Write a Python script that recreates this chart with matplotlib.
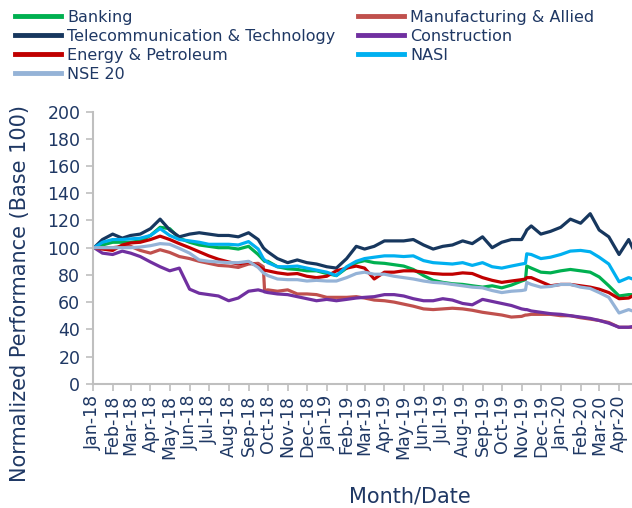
import pandas as pd
import matplotlib
matplotlib.use('Agg')
import matplotlib.pyplot as plt
import matplotlib.dates as mdates

# sample dates (roughly semi-monthly, plus a few around the jumps)
dates = pd.to_datetime([
    '2018-01-03', '2018-01-16', '2018-02-01', '2018-02-16', '2018-03-01', '2018-03-16',
    '2018-04-01', '2018-04-16', '2018-05-01', '2018-05-16', '2018-06-01', '2018-06-16',
    '2018-07-01', '2018-07-16', '2018-08-01', '2018-08-16', '2018-09-01', '2018-09-16',
    '2018-09-24', '2018-09-26', '2018-10-01', '2018-10-16', '2018-11-01', '2018-11-16',
    '2018-12-01', '2018-12-16',
    '2019-01-01', '2019-01-16', '2019-02-01', '2019-02-16', '2019-03-01', '2019-03-16',
    '2019-04-01', '2019-04-16', '2019-05-01', '2019-05-16', '2019-06-01', '2019-06-16',
    '2019-07-01', '2019-07-16', '2019-08-01', '2019-08-16', '2019-09-01', '2019-09-16',
    '2019-10-01', '2019-10-16', '2019-11-01', '2019-11-07', '2019-11-09', '2019-11-16',
    '2019-12-01', '2019-12-16',
    '2020-01-01', '2020-01-16', '2020-02-01', '2020-02-16', '2020-03-01', '2020-03-16',
    '2020-04-01', '2020-04-16', '2020-04-22',
])

banking = [
    100, 102, 104, 104, 104, 105, 109, 115, 114, 107, 104, 102, 101, 100, 100, 99, 101, 95,
    91, 90, 90, 86, 84.5, 84, 83, 83,
    81, 79.5, 85, 89, 90.5, 89, 88.5, 87.5, 86.5, 84, 79.5, 76, 74.5, 73.5, 73, 72, 71, 72,
    70.5, 72.5, 75.5, 76.5, 86.5, 85, 82, 81.5,
    83, 84, 83, 82, 78.5, 72, 64.5, 65.5, 65.5,
]
manufacturing = [
    100, 100, 100, 101, 101, 98, 96, 98.5, 96.5, 93.5, 92, 90, 88.5, 87, 86.5, 85.5, 88, 88.5,
    86, 68.5, 69, 68, 69, 66, 66, 65.5,
    63.5, 63.5, 63.5, 64, 63, 61.5, 61, 60, 58.5, 57, 55, 54.5, 55, 55.5, 55, 54, 52.5, 51.5,
    50.5, 49, 49.5, 50.5, 50.5, 51, 51, 51,
    50, 50, 48.5, 47.5, 46.5, 45, 41.5, 41.5, 41.5,
]
telecom = [
    100, 106, 110, 107, 109, 110, 114, 121, 113, 108, 110, 111, 110, 109, 109, 108, 111, 106,
    100, 99, 97, 92, 89, 91, 89, 88,
    86, 85, 92, 101, 99, 101, 105, 105, 105, 106, 102, 99, 101, 102, 105, 103, 108, 100,
    104, 106, 106, 111, 113, 116, 110, 112,
    115, 121, 118, 125, 113, 108, 95, 106, 100,
]
construction = [
    100, 96, 95, 97.5, 96, 93.5, 89.5, 86, 83, 85, 69.5, 66.5, 65.5, 64.5, 61, 63, 68, 69,
    68, 67.5, 67, 66, 65.5, 64, 62.5, 61,
    62, 61, 62, 63, 63.5, 64, 65.5, 65.5, 64.5, 62.5, 61, 61, 62.5, 61.5, 59, 58, 62, 60.5,
    59, 57.5, 55, 54.5, 54.5, 53.5, 52.5, 51.5,
    51, 50, 49, 48, 46.5, 44.5, 41.5, 41.5, 42,
]
energy = [
    100, 99, 98, 102, 103.5, 104, 106, 108.5, 106, 103, 100, 97, 94, 91.5, 89.5, 88, 89.5, 86.5,
    84, 83.5, 83, 81.5, 80.5, 81, 79, 78,
    79, 83, 85, 86.5, 85, 77, 82, 82, 83, 83, 82, 81, 80.5, 80.5, 81.5, 81, 78, 76,
    74.5, 75.5, 76.5, 77, 78, 78, 75, 72,
    73, 73, 72, 71, 69.5, 67, 62.5, 63, 64.5,
]
nasi = [
    100, 104, 106, 106, 106.5, 107, 109, 114, 109, 106, 105, 104, 102.5, 102.5, 102.5, 102, 104.5, 99,
    92, 91, 89, 86, 86, 86.5, 85, 83.5,
    82, 79.5, 86, 90, 92, 93, 94, 94, 93.5, 94, 90.5, 89, 88.5, 88, 89, 87, 89, 86,
    85, 86.5, 88, 88.5, 95.5, 95, 92, 93,
    95, 97.5, 98, 97, 93, 88, 75, 78, 77,
]
nse20 = [
    100, 100, 100, 100, 100, 100.5, 101.5, 103, 102.5, 99.5, 96, 91, 90, 89.5, 89, 89, 90, 85.5,
    81.5, 81, 79.5, 77, 76.5, 76.5, 75.5, 76,
    75.5, 75.5, 78, 81, 82, 80.5, 80.5, 79, 78, 77, 75.5, 74.5, 74, 73, 72, 71, 70.5, 68.5,
    67, 68, 68.5, 69, 74.5, 73, 71, 71.5,
    73, 73, 71, 70, 67, 63.5, 52, 54.5, 53.5,
]

series = [
    ('Banking', banking, '#00B050'),
    ('Manufacturing & Allied', manufacturing, '#C0504D'),
    ('Telecommunication & Technology', telecom, '#17375E'),
    ('Construction', construction, '#7030A0'),
    ('Energy & Petroleum', energy, '#C00000'),
    ('NASI', nasi, '#00B0F0'),
    ('NSE 20', nse20, '#95B3D7'),
]

text_col = '#1F3864'
axis_col = '#BFBFBF'
plt.rcParams['font.family'] = ['DejaVu Sans']

fig = plt.figure(figsize=(6.32, 5.08), dpi=100)
# plot area runs to (just past) the right edge of the picture, like the cropped original
x_end = pd.Timestamp('2020-04-25')
days = (x_end - pd.Timestamp('2018-01-01')).days
ax = fig.add_axes([92.8 / 632, 1 - 383.7 / 508, days * 0.641 / 632, 272 / 508])

lines = {}
for name, vals, col in series:
    ln, = ax.plot(dates, vals, color=col, lw=2.3, solid_joinstyle='round')
    lines[name] = ln

ax.set_xlim(pd.Timestamp('2018-01-01'), x_end)
ax.set_ylim(0, 200)
ax.set_yticks(range(0, 201, 20))
ax.xaxis.set_major_locator(mdates.MonthLocator())
ax.xaxis.set_major_formatter(mdates.DateFormatter('%b-%y'))
plt.setp(ax.get_xticklabels(), rotation=90)

for s in ['top', 'right']:
    ax.spines[s].set_visible(False)
for s in ['left', 'bottom']:
    ax.spines[s].set_color(axis_col)
    ax.spines[s].set_linewidth(1.5)
ax.tick_params(axis='both', colors=axis_col, width=1.2, length=5,
               labelcolor=text_col, labelsize=12.5)
ax.tick_params(axis='x', pad=3)
ax.tick_params(axis='y', pad=4)

fig.text(20 / 632, 1 - 294 / 508, 'Normalized Performance (Base 100)', rotation=90,
         ha='center', va='center', fontsize=15, color=text_col)
fig.text(410 / 632, 1 - 497 / 508, 'Month/Date', ha='center', va='center',
         fontsize=15, color=text_col)

leg_kw = dict(frameon=False, fontsize=11.5, handlelength=2.9, handletextpad=0.35,
              labelspacing=0.25, borderpad=0, borderaxespad=0, loc='upper left')
col1 = ['Banking', 'Telecommunication & Technology', 'Energy & Petroleum', 'NSE 20']
col2 = ['Manufacturing & Allied', 'Construction', 'NASI']
for names, x0 in [(col1, 15), (col2, 358)]:
    leg = fig.legend([lines[n] for n in names], names, bbox_to_anchor=(x0 / 632, 1 - 10 / 508),
                     **leg_kw)
    for t in leg.get_texts():
        t.set_color(text_col)
    for h in leg.legend_handles:
        h.set_linewidth(3.5)

fig.savefig('out.png', dpi=100)
